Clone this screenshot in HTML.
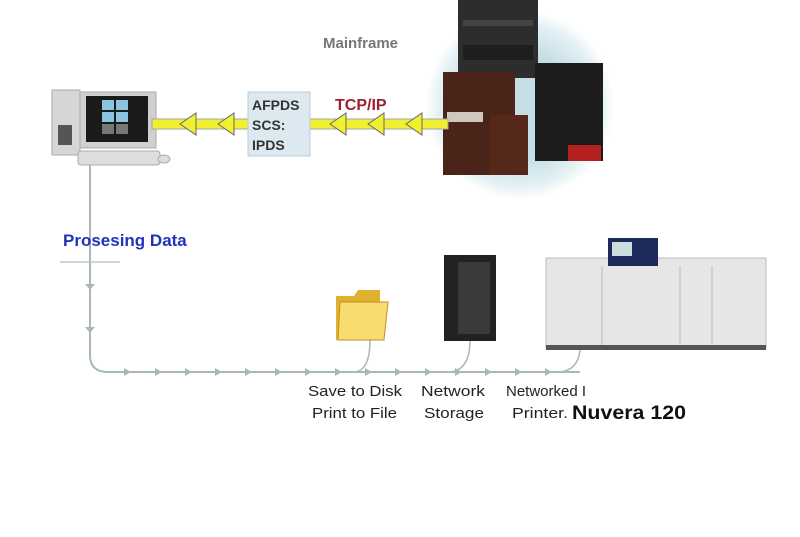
<!DOCTYPE html>
<html><head><style>
body{margin:0;background:#fff;width:800px;height:532px;overflow:hidden;font-family:"Liberation Sans",sans-serif}
</style></head><body>
<svg width="800" height="532" xmlns="http://www.w3.org/2000/svg">
<defs>
<radialGradient id="glow" cx="50%" cy="50%" r="50%"><stop offset="0.55" stop-color="#c4dde6"/><stop offset="0.85" stop-color="#e4f0f4"/><stop offset="1" stop-color="#fff"/></radialGradient>
</defs>
<circle cx="520" cy="105" r="95" fill="url(#glow)"/>
<rect x="458" y="0" width="80" height="78" fill="#2d2d2d"/>
<rect x="463" y="20" width="70" height="6" fill="#444"/>
<rect x="463" y="45" width="70" height="15" fill="#1e1e1e"/>
<rect x="535" y="63" width="68" height="98" fill="#1c1c1c"/>
<rect x="568" y="145" width="33" height="16" fill="#b52020"/>
<rect x="443" y="72" width="72" height="103" fill="#4a2418"/>
<rect x="447" y="112" width="36" height="10" fill="#cfc8c0"/>
<rect x="490" y="115" width="38" height="60" fill="#55281a"/>
<text x="323" y="48" font-size="15" font-weight="bold" fill="#777">Mainframe</text>
<rect x="52" y="90" width="28" height="65" fill="#d6d6d6" stroke="#aaa"/>
<rect x="58" y="125" width="14" height="20" fill="#555"/>
<rect x="80" y="92" width="76" height="56" fill="#d0d0d0" stroke="#aaa"/>
<rect x="86" y="96" width="62" height="46" fill="#1a1a1a"/>
<rect x="102" y="100" width="12" height="10" fill="#8cc4e0"/><rect x="116" y="100" width="12" height="10" fill="#8cc4e0"/>
<rect x="102" y="112" width="12" height="10" fill="#8cc4e0"/><rect x="116" y="112" width="12" height="10" fill="#8cc4e0"/>
<rect x="102" y="124" width="12" height="10" fill="#777"/><rect x="116" y="124" width="12" height="10" fill="#777"/>
<rect x="78" y="151" width="82" height="14" rx="3" fill="#ddd" stroke="#aaa"/>
<ellipse cx="164" cy="159" rx="6" ry="4" fill="#ddd" stroke="#aaa"/>
<rect x="152" y="119" width="296" height="10" fill="#f0f030" stroke="#9aa" stroke-width="1"/>
<g fill="#f0f030" stroke="#667" stroke-width="1">
<polygon points="180,124 196,113 196,135"/><polygon points="218,124 234,113 234,135"/>
<polygon points="330,124 346,113 346,135"/><polygon points="368,124 384,113 384,135"/><polygon points="406,124 422,113 422,135"/>
</g>
<rect x="248" y="92" width="62" height="64" fill="#dde9f0" stroke="#bcd"/>
<text font-size="14" font-weight="bold" fill="#333"><tspan x="252" y="110">AFPDS</tspan><tspan x="252" y="130">SCS:</tspan><tspan x="252" y="150">IPDS</tspan></text>
<text x="335" y="110" font-size="16" font-weight="bold" fill="#a02030">TCP/IP</text>
<path d="M90 165 V355 Q90 372 108 372 H580" fill="none" stroke="#a8b8b8" stroke-width="2"/>
<line x1="60" y1="262" x2="120" y2="262" stroke="#bcc" stroke-width="1.5"/>
<g fill="#a8b8b8">
<polygon points="85,284 95,284 90,290"/><polygon points="85,327 95,327 90,333"/>
<polygon points="124,368 124,376 131,372"/><polygon points="155,368 155,376 162,372"/><polygon points="185,368 185,376 192,372"/><polygon points="215,368 215,376 222,372"/><polygon points="245,368 245,376 252,372"/><polygon points="275,368 275,376 282,372"/><polygon points="305,368 305,376 312,372"/><polygon points="335,368 335,376 342,372"/><polygon points="365,368 365,376 372,372"/><polygon points="395,368 395,376 402,372"/><polygon points="425,368 425,376 432,372"/><polygon points="455,368 455,376 462,372"/><polygon points="485,368 485,376 492,372"/><polygon points="515,368 515,376 522,372"/><polygon points="545,368 545,376 552,372"/>
</g>
<path d="M355 372 Q370 370 370 340" fill="none" stroke="#a8b8b8" stroke-width="1.5"/>
<path d="M450 372 Q470 370 470 340" fill="none" stroke="#a8b8b8" stroke-width="1.5"/>
<path d="M560 372 Q578 370 580 350" fill="none" stroke="#a8b8b8" stroke-width="1.5"/>
<text x="63" y="246" font-size="17" font-weight="bold" fill="#2233bb">Prosesing Data</text>
<path d="M336 296 h18 l4 -6 h22 v50 h-44z" fill="#e0b030"/>
<path d="M340 302 h48 l-4 38 h-46z" fill="#f8dc70" stroke="#c09020"/>
<rect x="444" y="255" width="52" height="86" fill="#222"/>
<rect x="458" y="262" width="32" height="72" fill="#3a3a3a"/>
<rect x="546" y="258" width="220" height="90" fill="#e6e6e6" stroke="#bbb"/>
<rect x="608" y="238" width="50" height="28" fill="#1e2a5a"/>
<rect x="612" y="242" width="20" height="14" fill="#cdd"/>
<line x1="602" y1="266" x2="602" y2="348" stroke="#bbb"/><line x1="680" y1="266" x2="680" y2="348" stroke="#bbb"/><line x1="712" y1="266" x2="712" y2="348" stroke="#bbb"/>
<rect x="546" y="345" width="220" height="5" fill="#555"/>
<g font-size="15" fill="#222">
<text x="308" y="396" textLength="94" lengthAdjust="spacingAndGlyphs">Save to Disk</text>
<text x="312" y="418" textLength="85" lengthAdjust="spacingAndGlyphs">Print to File</text>
<text x="421" y="396" textLength="64" lengthAdjust="spacingAndGlyphs">Network</text>
<text x="424" y="418" textLength="60" lengthAdjust="spacingAndGlyphs">Storage</text>
<text x="506" y="396" textLength="80" lengthAdjust="spacingAndGlyphs">Networked I</text>
<text x="512" y="418" textLength="56" lengthAdjust="spacingAndGlyphs">Printer.</text>
</g>
<text x="572" y="419" font-size="19" font-weight="bold" fill="#111" textLength="114" lengthAdjust="spacingAndGlyphs">Nuvera 120</text>
</svg>
</body></html>
